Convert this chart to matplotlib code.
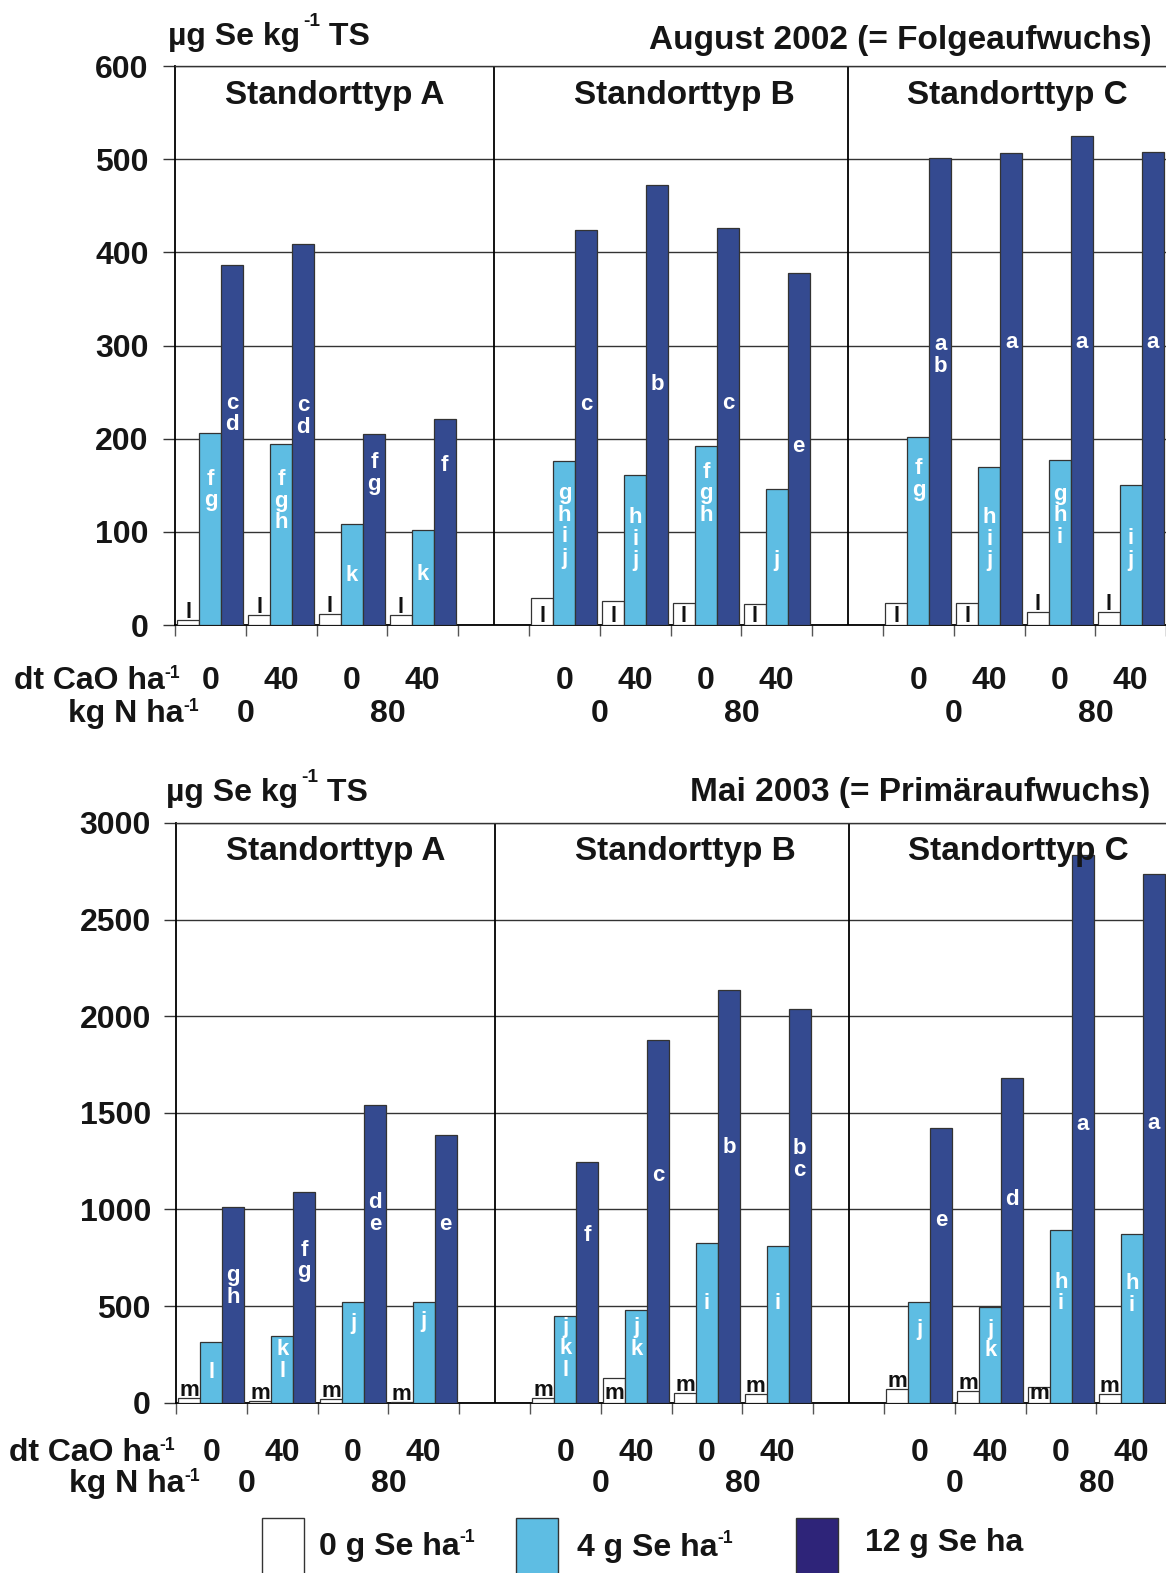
import matplotlib
matplotlib.use("Agg")
import matplotlib.pyplot as plt
import matplotlib.transforms as mtransforms
from matplotlib.patches import Rectangle
import numpy as np

plt.rcParams['font.family'] = ['Liberation Sans', 'DejaVu Sans']
plt.rcParams['font.weight'] = 'bold'

W, H = 1166, 1573

# Se-Gehalt (µg Se / kg TS), order per site: CaO 0 / 40 at N 0, then CaO 0 / 40 at N 80
sites = ["Standorttyp A", "Standorttyp B", "Standorttyp C"]
cao_labels = ["0", "40", "0", "40"]
n_labels = ["0", "80"]
se_labels = [("0 g Se ha", "-1"), ("4 g Se ha", "-1"), ("12 g Se ha", "")]

aug_0g = [5, 11, 12, 11, 29, 26, 24, 23, 24, 24, 14, 14]
aug_4g = [206, 194, 108, 102, 176, 161, 192, 146, 202, 170, 177, 150]
aug_12g = [386, 409, 205, 221, 424, 472, 426, 378, 501, 507, 525, 508]

mai_0g = [22, 10, 17, 5, 23, 130, 52, 47, 73, 61, 83, 47]
mai_4g = [314, 346, 522, 522, 451, 482, 828, 810, 522, 494, 896, 872]
mai_12g = [1012, 1088, 1539, 1387, 1246, 1876, 2137, 2040, 1420, 1682, 2834, 2738]

# significance letters
aug_0g_sig = ["l"] * 12
aug_4g_sig = ["fg", "fgh", "k", "k", "ghij", "hij", "fgh", "j", "fg", "hij", "ghi", "ij"]
aug_12g_sig = ["cd", "cd", "fg", "f", "c", "b", "c", "e", "ab", "a", "a", "a"]
mai_0g_sig = ["m"] * 12
mai_4g_sig = ["l", "kl", "j", "j", "jkl", "jk", "i", "i", "j", "jk", "hi", "hi"]
mai_12g_sig = ["gh", "fg", "de", "e", "f", "c", "b", "bc", "e", "d", "a", "a"]

# height (share of bar) where each letter stack sits
aug_4g_pos = [0.71, 0.69, 0.5, 0.54, 0.61, 0.58, 0.74, 0.48, 0.78, 0.55, 0.67, 0.55]
aug_12g_pos = [0.59, 0.55, 0.8, 0.78, 0.56, 0.55, 0.56, 0.51, 0.58, 0.6, 0.58, 0.6]
mai_4g_pos = [0.51, 0.65, 0.8, 0.82, 0.63, 0.7, 0.63, 0.64, 0.74, 0.67, 0.64, 0.65]
mai_12g_pos = [0.6, 0.68, 0.64, 0.67, 0.7, 0.63, 0.62, 0.62, 0.67, 0.63, 0.51, 0.53]

LIGHT = '#5EBDE3'
DARK = '#344A90'
DARK_LEG = '#2E2479'
EDGE = '#333333'
INK = '#151515'

slots = np.array([0, 1, 2, 3, 5, 6, 7, 8, 10, 11, 12, 13])
site_x = [1.75, 6.7, 11.4]
bw = 0.31
FS = 23
LFS = 16


def fx(x):
    return x / W


def fy(y):
    return 1 - y / H


def sup_text(x, y, parts, fs=FS, sup_scale=0.56, rise=11, gap=0):
    # parts: list of (text, superscript?) drawn left to right from pixel x, baseline y
    renderer = fig.canvas.get_renderer()
    cur = x
    for txt, sup in parts:
        if not txt:
            continue
        size = fs * sup_scale if sup else fs
        yy = y - rise if sup else y
        t = fig.text(fx(cur + (gap if sup else 0)), fy(yy), txt, ha='left', va='baseline',
                     fontsize=size, fontweight='bold', color=INK)
        cur += t.get_window_extent(renderer).width + (gap if sup else 0)


def stack(ax, x, y, letters, color):
    n = len(letters)
    for i, ch in enumerate(letters):
        off = ((n - 1) / 2 - i) * 15.5 - 0.3 * LFS
        ax.annotate(ch, xy=(x, y), xytext=(0, off), textcoords='offset points',
                    ha='center', va='baseline', color=color,
                    fontsize=LFS, fontweight='bold', zorder=5)


def panel(ax, v0, v4, v12, s0, s4, s12, p4, p12, ymax, ystep, inside_px,
          site_off, cao_y, n_y, row_x, tick_pad):
    ax.bar(slots - bw, v0, bw, color='white', edgecolor=EDGE, lw=0.9, zorder=3)
    ax.bar(slots, v4, bw, color=LIGHT, edgecolor=EDGE, lw=0.9, zorder=3)
    ax.bar(slots + bw, v12, bw, color=DARK, edgecolor=EDGE, lw=0.9, zorder=3)
    ax.set_xlim(-0.5, 13.5)
    ax.set_ylim(0, ymax)

    ticks = np.arange(0, ymax + 1, ystep)
    ax.set_yticks(ticks)
    ax.set_yticklabels([str(int(t)) for t in ticks], fontsize=FS, fontweight='bold',
                       color=INK)
    ax.tick_params(axis='y', direction='out', length=8.5, width=1.0,
                   color=EDGE, pad=tick_pad)
    ax.set_xticks([])
    ax.set_xticks(np.arange(-0.5, 14, 1), minor=True)
    ax.tick_params(axis='x', which='minor', direction='out', length=8,
                   width=1.0, color='#555555', labelbottom=False)
    ax.yaxis.grid(True, color=EDGE, lw=1.0, zorder=0)
    ax.set_axisbelow(True)
    for side in ['left', 'bottom']:
        ax.spines[side].set_color('black')
        ax.spines[side].set_linewidth(1.3)
    ax.spines['top'].set_color(EDGE)
    ax.spines['top'].set_linewidth(1.0)
    ax.spines['right'].set_visible(False)
    ax.axvline(4, color='black', lw=1.3, zorder=2)
    ax.axvline(9, color='black', lw=1.3, zorder=2)

    fig.canvas.draw()
    y0 = ax.transData.transform((0, 0))[1]
    for i, x in enumerate(slots):
        h_px = ax.transData.transform((0, v0[i]))[1] - y0
        if h_px >= inside_px:
            xy, dy = (x - bw, 0), 2.5
        else:
            xy, dy = (x - bw, v0[i]), 1.5
        ax.annotate(s0[i], xy=xy, xytext=(0, dy), textcoords='offset points',
                    ha='center', va='baseline', fontsize=LFS, fontweight='bold',
                    color='#111111', zorder=5)
        stack(ax, x, v4[i] * p4[i], s4[i], 'white')
        stack(ax, x + bw, v12[i] * p12[i], s12[i], 'white')

    for name, sx in zip(sites, site_x):
        ax.annotate(name, xy=(sx, 1), xycoords=ax.get_xaxis_transform(),
                    xytext=(0, -site_off), textcoords='offset points',
                    ha='center', va='baseline', fontsize=24, fontweight='bold',
                    color=INK)

    tr = mtransforms.blended_transform_factory(ax.transData, fig.transFigure)
    for b in [0, 5, 10]:
        for k, lab in enumerate(cao_labels):
            ax.text(b + k, fy(cao_y), lab, transform=tr, ha='center', va='baseline',
                    fontsize=FS, fontweight='bold', color=INK)
        for k, lab in enumerate(n_labels):
            ax.text(b + 0.5 + 2 * k, fy(n_y), lab, transform=tr, ha='center',
                    va='baseline', fontsize=FS, fontweight='bold', color=INK)
    sup_text(row_x[0], cao_y, [("dt CaO ha", False), ("-1", True)], sup_scale=0.55, rise=11)
    sup_text(row_x[1], n_y, [("kg N ha", False), ("-1", True)], sup_scale=0.55, rise=11)


fig = plt.figure(figsize=(W / 100, H / 100), dpi=100)
slot_w = 70.8
ax_top = fig.add_axes([fx(175), fy(625), 14 * slot_w / W, (625 - 66) / H])
ax_bot = fig.add_axes([fx(176), fy(1402.7), 14 * slot_w / W, (1402.7 - 823) / H])

panel(ax_top, aug_0g, aug_4g, aug_12g, aug_0g_sig, aug_4g_sig, aug_12g_sig,
      aug_4g_pos, aug_12g_pos, 600, 100, 20, 27.4, 689, 722, (14, 68), 10.5)
panel(ax_bot, mai_0g, mai_4g, mai_12g, mai_0g_sig, mai_4g_sig, mai_12g_sig,
      mai_4g_pos, mai_12g_pos, 3000, 500, 15, 26.6, 1461, 1492, (9, 69), 9.5)

unit_parts = [("µg Se kg", False), ("-1", True), (" TS", False)]
sup_text(168, 45, unit_parts, sup_scale=0.6, rise=19, gap=3)
sup_text(166, 801, unit_parts, sup_scale=0.6, rise=19, gap=3)
fig.text(fx(1152), fy(49), "August 2002 (= Folgeaufwuchs)", ha='right', va='baseline',
         fontsize=24, fontweight='bold', color=INK)
fig.text(fx(1150), fy(801), "Mai 2003 (= Primäraufwuchs)", ha='right', va='baseline',
         fontsize=24, fontweight='bold', color=INK)

# legend boxes run off the bottom edge
leg_box_x = [262, 516, 796]
leg_text_x = [319, 577, 865]
leg_text_y = [1555, 1556, 1551]
leg_colors = ['white', LIGHT, DARK_LEG]
for bx, tx, ty, col, (lab, sup) in zip(leg_box_x, leg_text_x, leg_text_y,
                                       leg_colors, se_labels):
    fig.add_artist(Rectangle((fx(bx), fy(1590)), 42 / W, (1590 - 1518) / H,
                             transform=fig.transFigure, facecolor=col,
                             edgecolor=EDGE, lw=1.0))
    sup_text(tx, ty, [(lab, False), (sup, True)], sup_scale=0.55, rise=13)

fig.savefig("out.png", dpi=100)
